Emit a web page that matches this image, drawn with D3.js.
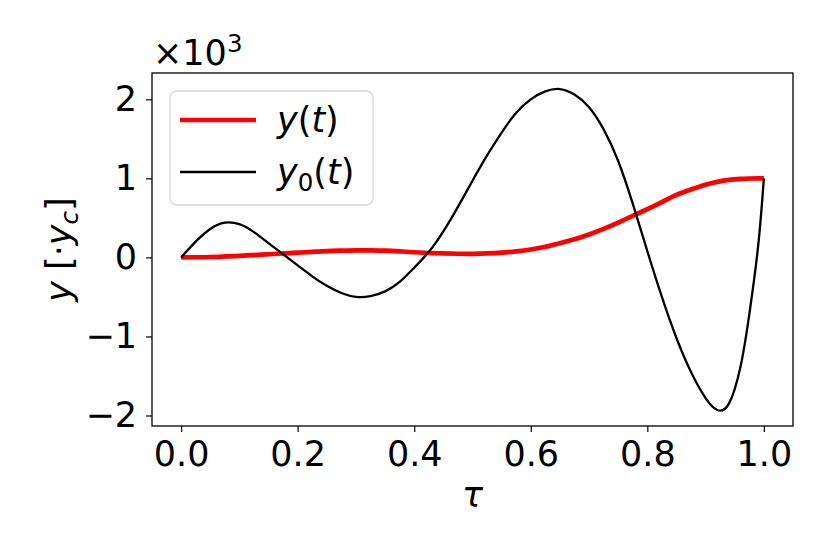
<!DOCTYPE html>
<html>
<head>
<meta charset="utf-8">
<script src="https://cdn.jsdelivr.net/npm/d3@7"></script>
<style>
  body { margin: 0; background: #fff; }
  svg text { font-family: "DejaVu Sans", sans-serif; fill: #000; }
</style>
</head>
<body>
<div id="viz"></div>
<script>
// normalised time samples and the two trajectories (units of 1e3 · y_c)
const tau = [0, 0.025, 0.05, 0.075, 0.1, 0.125, 0.15, 0.175, 0.2, 0.225, 0.25, 0.275, 0.3, 0.325,
  0.35, 0.375, 0.4, 0.425, 0.45, 0.475, 0.5, 0.525, 0.55, 0.575, 0.6, 0.625, 0.65, 0.675, 0.7,
  0.725, 0.75, 0.775, 0.8, 0.825, 0.85, 0.875, 0.9, 0.92, 0.94, 0.96, 0.975, 0.99, 1.0];

const y0Values = [0, 0.20, 0.36, 0.44, 0.42, 0.32, 0.18, 0.04, -0.10, -0.24, -0.36, -0.45, -0.50, -0.49,
  -0.43, -0.31, -0.13, 0.07, 0.33, 0.64, 0.97, 1.29, 1.58, 1.83, 2.00, 2.10, 2.13, 2.06, 1.90,
  1.62, 1.22, 0.68, 0.08, -0.50, -1.02, -1.45, -1.78, -1.93, -1.85, -1.38, -0.72, 0.13, 1.0];

const yValues = [0, 0.002, 0.005, 0.012, 0.02, 0.03, 0.04, 0.05, 0.06, 0.07, 0.08, 0.086, 0.09, 0.089,
  0.085, 0.076, 0.065, 0.056, 0.05, 0.046, 0.045, 0.05, 0.06, 0.077, 0.10, 0.135, 0.18, 0.23, 0.29,
  0.36, 0.44, 0.525, 0.61, 0.70, 0.79, 0.86, 0.92, 0.955, 0.98, 0.993, 0.998, 1.0, 1.0];

const xTicks = [0, 0.2, 0.4, 0.6, 0.8, 1.0];
const yTicks = [-2, -1, 0, 1, 2];

const margin = {top: 73, right: 37, bottom: 128, left: 152};
const width = 830 - margin.left - margin.right;
const height = 554 - margin.top - margin.bottom;
const fs = 35;

const svg = d3.select("#viz")
  .append("svg")
    .attr("width", 830)
    .attr("height", 554);

const g = svg.append("g")
  .attr("transform", `translate(${margin.left},${margin.top})`);

const seriesY = tau.map((t, i) => ({t: t, v: yValues[i]}));
const seriesY0 = tau.map((t, i) => ({t: t, v: y0Values[i]}));

// matplotlib-style 5% margins
const xExt = d3.extent(tau);
const xPad = (xExt[1] - xExt[0]) * 0.05;
const x = d3.scaleLinear()
  .domain([xExt[0] - xPad, xExt[1] + xPad])
  .range([0, width]);

const yExt = d3.extent(yValues.concat(y0Values));
const yPad = (yExt[1] - yExt[0]) * 0.05;
const y = d3.scaleLinear()
  .domain([yExt[0] - yPad, yExt[1] + yPad])
  .range([height, 0]);

const line = d3.line()
  .x(d => x(d.t))
  .y(d => y(d.v))
  .curve(d3.curveNatural);

g.append("path")
  .datum(seriesY)
  .attr("fill", "none")
  .attr("stroke", "#ff0000")
  .attr("stroke-width", 4.7)
  .attr("d", line);

g.append("path")
  .datum(seriesY0)
  .attr("fill", "none")
  .attr("stroke", "#000")
  .attr("stroke-width", 2.3)
  .attr("d", line);

// axes
const xAxis = g.append("g")
  .attr("transform", `translate(0,${height})`)
  .call(d3.axisBottom(x).tickValues(xTicks).tickFormat(d3.format(".1f")).tickSizeOuter(0).tickSize(6).tickPadding(9));

const yAxis = g.append("g")
  .call(d3.axisLeft(y).tickValues(yTicks).tickFormat(d3.format("d")).tickSizeOuter(0).tickSize(6).tickPadding(9));

[xAxis, yAxis].forEach(a => {
  a.select(".domain").remove();
  a.selectAll(".tick line").attr("stroke", "#000").attr("stroke-width", 1.2);
  a.selectAll(".tick text")
    .style("font-family", "DejaVu Sans")
    .style("font-size", fs + "px");
});

// frame
g.append("rect")
  .attr("x", 0)
  .attr("y", 0)
  .attr("width", width)
  .attr("height", height)
  .attr("fill", "none")
  .attr("stroke", "#000")
  .attr("stroke-width", 1.3);

// offset text
const off = svg.append("text")
  .attr("x", 153)
  .attr("y", 65)
  .style("font-size", fs + "px");
off.append("tspan").text("×10");
off.append("tspan").attr("dy", -13).style("font-size", (fs * 0.7) + "px").text("3");

// axis labels
svg.append("text")
  .attr("x", margin.left + x(0.5))
  .attr("y", 507)
  .attr("text-anchor", "middle")
  .style("font-size", fs + "px")
  .style("font-style", "italic")
  .text("τ");

const yl = svg.append("text")
  .attr("transform", `translate(71,${margin.top + height / 2}) rotate(-90)`)
  .attr("text-anchor", "middle")
  .style("font-size", fs + "px");
yl.append("tspan").style("font-style", "italic").text("y");
yl.append("tspan").text(" [·");
yl.append("tspan").style("font-style", "italic").text("y");
yl.append("tspan").attr("dy", 7).style("font-size", (fs * 0.7) + "px").style("font-style", "italic").text("c");
yl.append("tspan").attr("dy", -7).text("]");

// legend
const legend = svg.append("g")
  .attr("transform", "translate(170,91)");

legend.append("rect")
  .attr("width", 203)
  .attr("height", 114)
  .attr("rx", 7)
  .attr("fill", "#fff")
  .attr("fill-opacity", 0.8)
  .attr("stroke", "#d6d6d6")
  .attr("stroke-width", 1.3);

const items = [
  {color: "#ff0000", w: 4.7, sub: null},
  {color: "#000", w: 2.3, sub: "0"}
];

items.forEach((it, i) => {
  const cy = 29 + i * 52;
  legend.append("line")
    .attr("x1", 10)
    .attr("x2", 86)
    .attr("y1", cy)
    .attr("y2", cy)
    .attr("stroke", it.color)
    .attr("stroke-width", it.w);

  const t = legend.append("text")
    .attr("x", 107)
    .attr("y", cy + 12)
    .style("font-size", fs + "px");
  t.append("tspan").style("font-style", "italic").text("y");
  if (it.sub) {
    t.append("tspan").attr("dy", 7).style("font-size", (fs * 0.7) + "px").text(it.sub);
    t.append("tspan").attr("dy", -7).text("(");
  } else {
    t.append("tspan").text("(");
  }
  t.append("tspan").style("font-style", "italic").text("t");
  t.append("tspan").text(")");
});
</script>
</body>
</html>
